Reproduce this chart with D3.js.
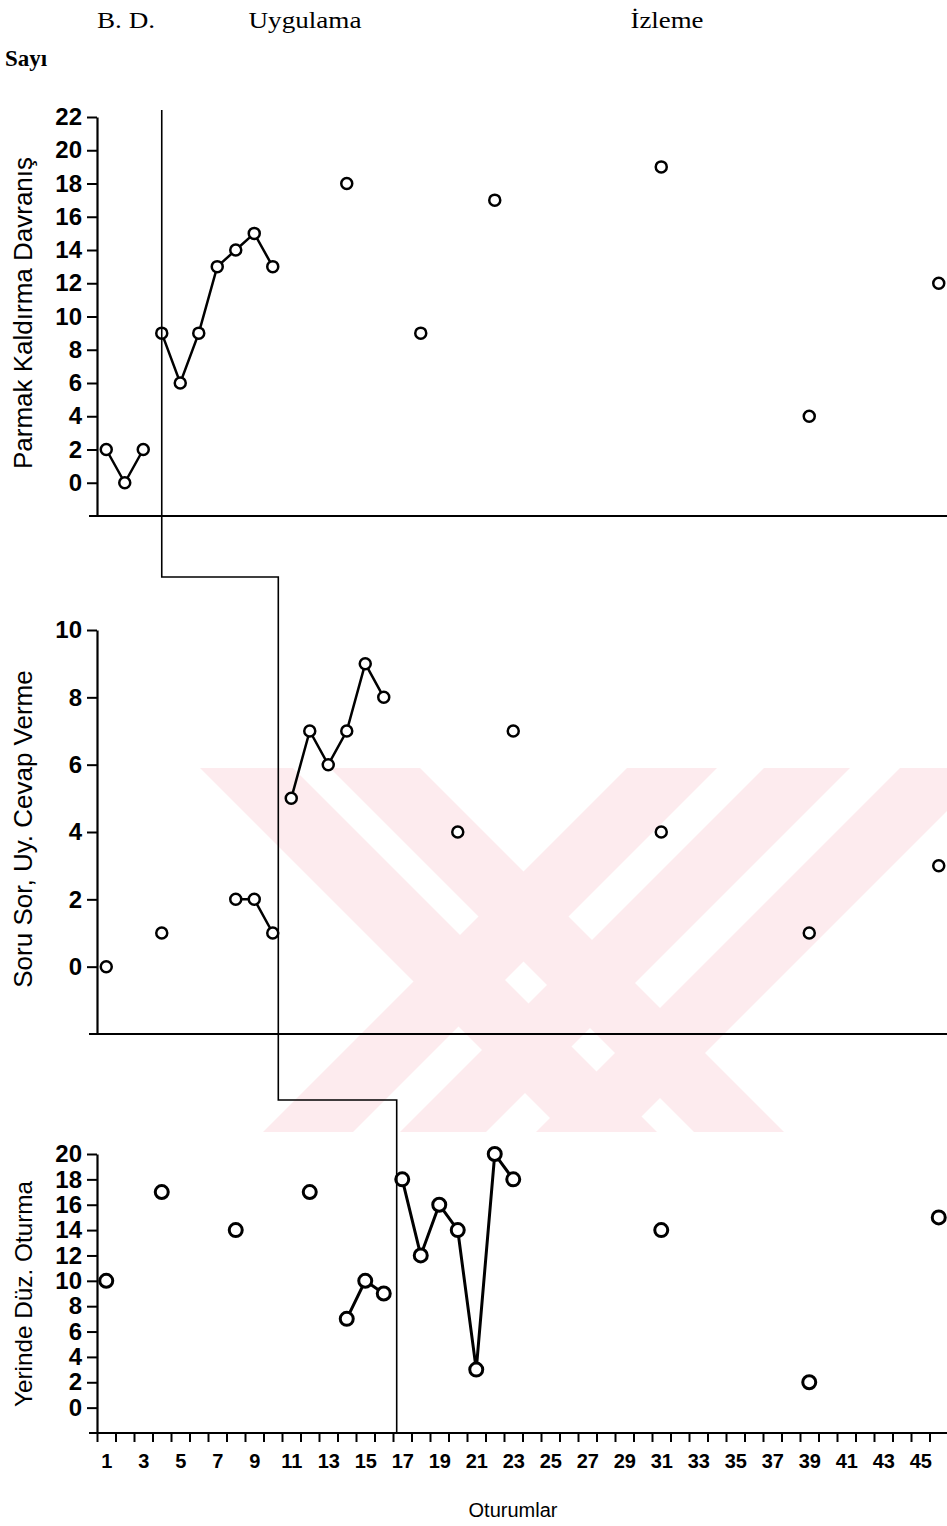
<!DOCTYPE html>
<html>
<head>
<meta charset="utf-8">
<script src="https://cdn.jsdelivr.net/npm/d3@7"></script>
<style>
  body { margin: 0; background: #fff; }
  svg { display: block; }
</style>
</head>
<body>
<div id="chart"></div>
<script>
var width = 947,
    height = 1526;

// sessions (Oturumlar) and counts for each behaviour
var sessions1 = [1, 2, 3, 4, 5, 6, 7, 8, 9, 10, 14, 18, 22, 31, 39, 46];
var values1   = [2, 0, 2, 9, 6, 9, 13, 14, 15, 13, 18, 9, 17, 19, 4, 12];
var runs1     = [[1, 3], [4, 10]];

var sessions2 = [1, 4, 8, 9, 10, 11, 12, 13, 14, 15, 16, 20, 23, 31, 39, 46];
var values2   = [0, 1, 2, 2, 1, 5, 7, 6, 7, 9, 8, 4, 7, 4, 1, 3];
var runs2     = [[8, 10], [11, 16]];

var sessions3 = [1, 4, 8, 12, 14, 15, 16, 17, 18, 19, 20, 21, 22, 23, 31, 39, 46];
var values3   = [10, 17, 14, 17, 7, 10, 9, 18, 12, 16, 14, 3, 20, 18, 14, 2, 15];
var runs3     = [[14, 16], [17, 23]];

var titles = ["Parmak Kaldırma Davranış", "Soru Sor, Uy. Cevap Verme", "Yerinde Düz. Oturma"];
var yMax = [22, 10, 20];
var phaseAt = [4, 10.3, 16.7];   // phase change, in session units
var xTickLabels = d3.range(1, 46, 2);
var phaseNames = ["B. D.", "Uygulama", "İzleme"];

var svg = d3.select("#chart")
    .append("svg")
    .attr("width", width)
    .attr("height", height);

// faint watermark in the background
var wm = svg.append("g").attr("clip-path", "url(#wmclip)");
svg.append("defs").append("clipPath").attr("id", "wmclip")
    .append("rect").attr("x", 200).attr("y", 768).attr("width", 747).attr("height", 364);
var wmTop = 768, wmH = 364;
[[200, 293, 1], [330, 420, 1], [627, 717, -1], [764, 850, -1], [900, 990, -1]].forEach(function (b) {
    var d = b[2] * wmH;
    wm.append("path")
        .attr("d", "M" + b[0] + "," + wmTop + "L" + b[1] + "," + wmTop +
            "L" + (b[1] + d) + "," + (wmTop + wmH) + "L" + (b[0] + d) + "," + (wmTop + wmH) + "Z")
        .style("fill", "#fdebee");
});

var x = d3.scaleLinear().domain([0.5, 46.5]).range([97, 948]);

var panels = [
    { s: sessions1, v: values1, runs: runs1, y: d3.scaleLinear().domain([-2, 22]).range([516, 117]), r: 5.5, sw: 2.5, fs: 26, ty: 313 },
    { s: sessions2, v: values2, runs: runs2, y: d3.scaleLinear().domain([-2, 10]).range([1034, 630]), r: 5.5, sw: 2.5, fs: 26, ty: 829 },
    { s: sessions3, v: values3, runs: runs3, y: d3.scaleLinear().domain([-2, 20]).range([1433, 1154]), r: 6.5, sw: 3, fs: 24.3, ty: 1294 }
];

panels.forEach(function (p, i) {
    var g = svg.append("g");

    // horizontal base line
    g.append("line")
        .attr("x1", 89).attr("x2", width)
        .attr("y1", p.y(-2)).attr("y2", p.y(-2))
        .style("stroke", "#000").style("stroke-width", 2.2);

    var yAxis = d3.axisLeft(p.y)
        .tickValues(d3.range(0, yMax[i] + 1, 2))
        .tickSize(10)
        .tickSizeOuter(0)
        .tickPadding(5);

    var ax = g.append("g")
        .attr("transform", `translate(${x(0.5)},0)`)
        .call(yAxis);
    ax.select(".domain").style("stroke-width", 2.2);
    ax.selectAll(".tick line").style("stroke-width", 2);
    ax.selectAll("text")
        .style("font-family", "'Liberation Sans', Arial, sans-serif")
        .style("font-weight", "bold")
        .style("font-size", "24px")
        .attr("fill", "#000");

    svg.append("text")
        .attr("transform", `translate(32,${p.ty}) rotate(-90)`)
        .style("text-anchor", "middle")
        .style("font-family", "'Liberation Sans', Arial, sans-serif")
        .style("font-size", p.fs + "px")
        .text(titles[i]);

    var pts = p.s.map(function (s, k) { return { s: s, v: p.v[k] }; });
    var line = d3.line().x(d => x(d.s)).y(d => p.y(d.v));

    p.runs.forEach(function (r) {
        g.append("path")
            .datum(pts.filter(d => d.s >= r[0] && d.s <= r[1]))
            .attr("d", line)
            .style("fill", "none")
            .style("stroke", "#000")
            .style("stroke-width", p.sw);
    });

    g.selectAll("circle")
        .data(pts)
        .enter()
        .append("circle")
        .attr("cx", d => x(d.s))
        .attr("cy", d => p.y(d.v))
        .attr("r", p.r)
        .style("fill", "#fff")
        .style("stroke", "#000")
        .style("stroke-width", p.sw);
});

// bottom axis with session ticks
var yb = panels[2].y(-2);
var xTicks = svg.append("g")
    .attr("transform", `translate(0,${yb})`)
    .call(d3.axisBottom(x).tickValues(d3.range(0.5, 46.6, 1)).tickSize(9).tickSizeOuter(0).tickFormat(""));
xTicks.select(".domain").remove();
xTicks.selectAll(".tick line").style("stroke-width", 2);

var xLabels = svg.append("g")
    .attr("transform", `translate(0,${yb})`)
    .call(d3.axisBottom(x).tickValues(xTickLabels).tickSize(0).tickPadding(21));
xLabels.select(".domain").remove();
xLabels.selectAll("text")
    .style("font-family", "'Liberation Sans', Arial, sans-serif")
    .style("font-weight", "bold")
    .style("font-size", "20px")
    .attr("fill", "#000");

svg.append("text")
    .attr("x", 513).attr("y", 1517)
    .style("text-anchor", "middle")
    .style("font-family", "'Liberation Sans', Arial, sans-serif")
    .style("font-size", "20px")
    .text("Oturumlar");

// phase change line (steps down through the three panels)
var stepY = [110, 577, 1100, yb];
var phasePath = d3.path();
phasePath.moveTo(x(phaseAt[0]), stepY[0]);
phasePath.lineTo(x(phaseAt[0]), stepY[1]);
phasePath.lineTo(x(phaseAt[1]), stepY[1]);
phasePath.lineTo(x(phaseAt[1]), stepY[2]);
phasePath.lineTo(x(phaseAt[2]), stepY[2]);
phasePath.lineTo(x(phaseAt[2]), stepY[3]);
svg.append("path")
    .attr("d", phasePath.toString())
    .style("fill", "none")
    .style("stroke", "#000")
    .style("stroke-width", 1.6);

// phase headings
var headX = [126, 305, 667],
    headLen = [58, 113, 73];
phaseNames.forEach(function (n, i) {
    svg.append("text")
        .attr("x", headX[i]).attr("y", 28)
        .style("text-anchor", "middle")
        .style("font-family", "'Liberation Serif', 'Times New Roman', serif")
        .style("font-size", "23px")
        .attr("textLength", headLen[i])
        .attr("lengthAdjust", "spacingAndGlyphs")
        .text(n);
});

svg.append("text")
    .attr("x", 5).attr("y", 66)
    .style("font-family", "'Liberation Serif', 'Times New Roman', serif")
    .style("font-weight", "bold")
    .style("font-size", "23px")
    .text("Sayı");
</script>
</body>
</html>
